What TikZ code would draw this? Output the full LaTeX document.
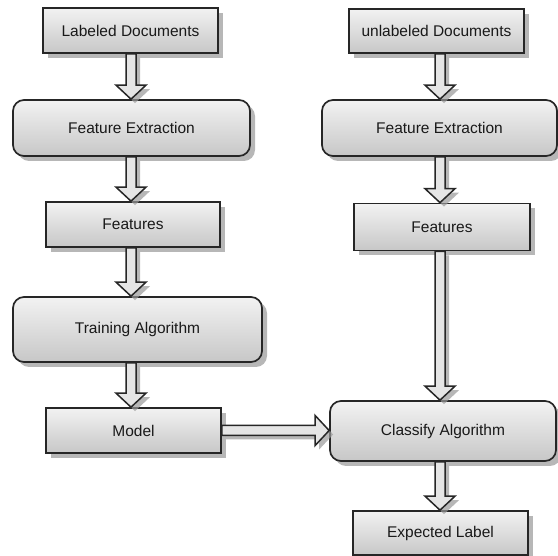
\documentclass[tikz,border=0pt]{standalone}
\usepackage{fontspec}
\setmainfont{Liberation Sans}
\usetikzlibrary{calc,shadows}
\begin{document}
\begin{tikzpicture}[x=1pt,y=-1pt,
  base/.style={draw=black!85, line width=1.7pt, top color=black!5, bottom color=black!22,
    inner sep=0pt, text=black!90, font=\fontsize{15.5}{18}\selectfont,
    drop shadow={shadow xshift=5pt, shadow yshift=-5pt, fill=black!40, opacity=0.7}},
  sqbox/.style={base},
  rbox/.style={base, rounded corners=11pt},
  barrow/.style={draw=black!85, line width=1.5pt, fill=black!10, line join=miter,
    drop shadow={shadow xshift=4pt, shadow yshift=-4pt, fill=black!40, opacity=0.7}}]
\useasboundingbox (0,0) rectangle (558,556);
\newcommand\varrow[3]{%
  \draw[barrow] let \p1=(#1.south -| #3), \p2=(#2.north -| #3) in
   (\x1-5pt,\y1) -- (\x1-5pt,\y2+14pt) -- (\x1-15pt,\y2+14pt) -- (\x1,\y2)
   -- (\x1+15pt,\y2+14pt) -- (\x1+5pt,\y2+14pt) -- (\x1+5pt,\y1) -- cycle;}
\coordinate (colL) at (131,0);
\coordinate (colR) at (440,0);
% left column
\node[sqbox, minimum width=175, minimum height=45] (ld) at (130.5,30.5) {Labeled Documents};
\node[rbox, minimum width=237, minimum height=56] (fe1) at (131.5,128) {Feature Extraction};
\node[sqbox, minimum width=174, minimum height=45] (f1) at (133,224.5) {Features};
\node[rbox, minimum width=249, minimum height=65] (ta) at (137.5,329.5) {Training Algorithm};
\node[sqbox, minimum width=175, minimum height=45] (m) at (133.5,430.5) {Model};
% right column
\node[sqbox, minimum width=175, minimum height=44] (ud) at (436.5,31) {unlabeled Documents};
\node[rbox, minimum width=235, minimum height=56] (fe2) at (439.5,128) {Feature Extraction};
\node[sqbox, minimum width=176, minimum height=47] (f2) at (442,227) {Features};
\node[rbox, minimum width=226, minimum height=60] (ca) at (443,431) {Classify Algorithm};
\node[sqbox, minimum width=175, minimum height=44] (el) at (440.5,533) {Expected Label};
% arrows
\varrow{ld}{fe1}{colL}
\varrow{fe1}{f1}{colL}
\varrow{f1}{ta}{colL}
\varrow{ta}{m}{colL}
\varrow{ud}{fe2}{colR}
\varrow{fe2}{f2}{colR}
\varrow{f2}{ca}{colR}
\varrow{ca}{el}{colR}
\draw[barrow] let \p1=(m.east), \p2=(ca.west) in
  (\x1,\y1+5pt) -- (\x2-14pt,\y1+5pt) -- (\x2-14pt,\y1+15pt) -- (\x2,\y1)
  -- (\x2-14pt,\y1-15pt) -- (\x2-14pt,\y1-5pt) -- (\x1,\y1-5pt) -- cycle;
\end{tikzpicture}
\end{document}
